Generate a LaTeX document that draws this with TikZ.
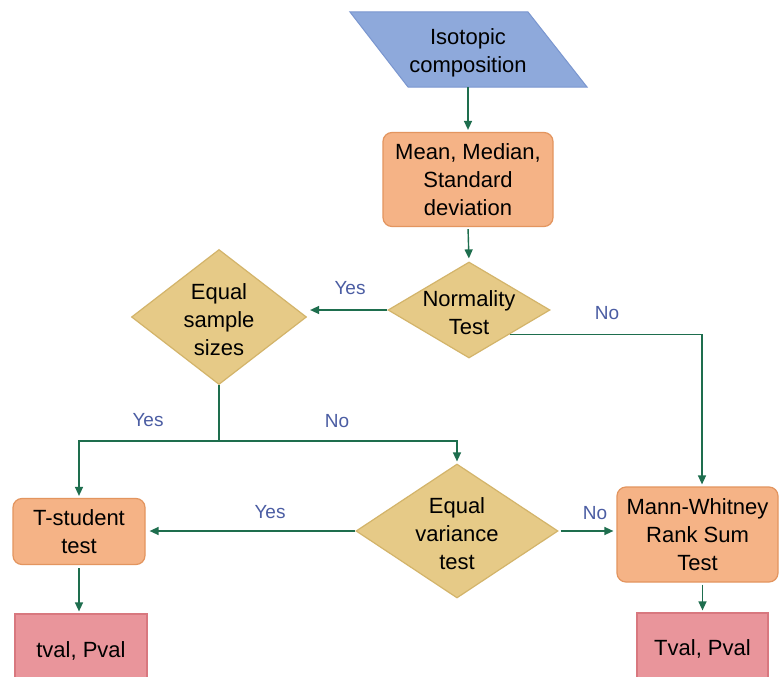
\documentclass[tikz,border=0pt]{standalone}
\usepackage{fontspec}
\setmainfont{Liberation Sans}
\usetikzlibrary{shapes.geometric,arrows.meta,calc}

\definecolor{flow}{HTML}{1E6E4E}
\definecolor{inpfill}{HTML}{8EA9DB}
\definecolor{inpline}{HTML}{7A96CF}
\definecolor{procfill}{HTML}{F5B386}
\definecolor{procline}{HTML}{E3955F}
\definecolor{decfill}{HTML}{E6CA87}
\definecolor{decline}{HTML}{D3B46A}
\definecolor{resfill}{HTML}{E9959B}
\definecolor{resline}{HTML}{D8787F}
\definecolor{labcol}{HTML}{4B5DA3}

\tikzset{
  boxtext/.style={align=center, inner sep=0pt, font=\fontsize{22}{28}\selectfont},
  proc/.style={boxtext, draw=procline, fill=procfill, rounded corners=9pt, line width=1.2pt},
  res/.style={boxtext, draw=resline, fill=resfill, line width=1.2pt},
  dec/.style={diamond, draw=decline, fill=decfill, line width=1.2pt, inner sep=0pt},
  flowline/.style={draw=flow, line width=1.4pt},
  arr/.style={flowline, -{Triangle[length=9pt,width=8pt]}},
  lab/.style={text=labcol, inner sep=0pt, font=\fontsize{19}{23}\selectfont}
}

\begin{document}
\begin{tikzpicture}[x=1pt,y=-1pt]
\useasboundingbox (0,0) rectangle (779,677);
\fill[white] (0,0) rectangle (779,677);
\clip (0,0) rectangle (779,677);

% input parallelogram
\filldraw[fill=inpfill, draw=inpline, line width=1pt]
  (350,12) -- (528,12) -- (587,87) -- (408,87) -- cycle;
\node[boxtext, minimum width=180pt, minimum height=69pt] (iso) at (468,52.5) {Isotopic\\composition};

% process boxes
\node[proc, minimum width=170pt, minimum height=94pt] (stats) at (468,179.5) {Mean, Median,\\Standard\\deviation};
\node[proc, minimum width=132pt, minimum height=66pt] (ts) at (79,531.5) {T-student\\test};
\node[proc, minimum width=161pt, minimum height=95pt] (mw) at (697.5,534.5) {Mann-Whitney\\Rank Sum\\Test};

% decisions
\node[dec, minimum width=162pt, minimum height=96pt] (norm) at (469,310) {};
\node[boxtext] (normtxt) at (469,313) {Normality\\Test};
\node[dec, minimum width=175pt, minimum height=135pt] (ess) at (219,317) {};
\node[boxtext] (esstxt) at (219,320) {Equal\\sample\\sizes};
\node[dec, minimum width=202pt, minimum height=134pt] (ev) at (457,531) {};
\node[boxtext] (evtxt) at (457,534) {Equal\\variance\\test};

% results
\node[res, minimum width=132pt, minimum height=74pt] (tv1) at (81,651) {tval, Pval};
\node[res, minimum width=131pt, minimum height=72pt] (tv2) at (702.5,649) {Tval, Pval};

% connectors
\draw[arr, shorten >=2pt] (iso.south) -- (stats.north);
\draw[arr, shorten <=2pt, shorten >=3pt] (stats.south) -- (norm.north);
\draw[arr, shorten >=3pt] (norm.west) -- (norm.west -| ess.east);
\draw[arr, shorten >=2pt] (norm.south east) -| ([xshift=4.5pt]mw.north);
\coordinate (split) at (219,441);
\draw[flowline] (ess.south) -- (split);
\draw[arr, shorten >=2pt] (split) -| (ts.north);
\draw[arr, shorten >=2pt] (split) -| (ev.north);
\draw[arr, shorten >=4pt] (ev.west) -- (ev.west -| ts.east);
\draw[arr, shorten <=2pt, shorten >=3pt] (ev.east) -- (ev.east -| mw.west);
\draw[arr, shorten <=3pt, shorten >=2pt] (ts.south) -- (ts.south |- tv1.north);
\draw[arr, shorten <=2pt, shorten >=2pt] (mw.south -| tv2.north) -- (tv2.north);

% branch labels
\node[lab] (yes1) at (350,288) {Yes};
\node[lab] (no1) at (607,313) {No};
\node[lab] (yes2) at (148,420) {Yes};
\node[lab] (no2) at (337,421) {No};
\node[lab] (yes3) at (270,512) {Yes};
\node[lab] (no3) at (595,513) {No};
\end{tikzpicture}
\end{document}
